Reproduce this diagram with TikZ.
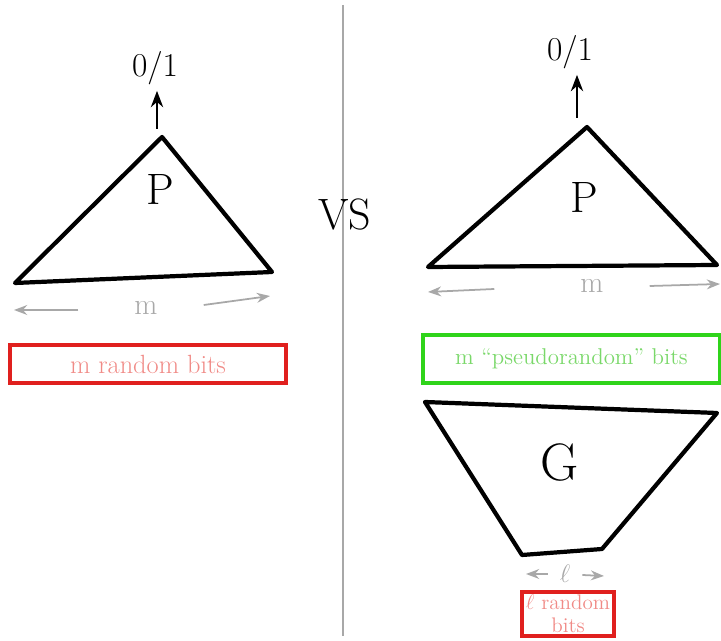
\documentclass[tikz,border=0pt]{standalone}
\usepackage{xcolor}
\definecolor{skred}{HTML}{E0201E}
\definecolor{skpink}{HTML}{F08A86}
\definecolor{skgreen}{HTML}{2FD41A}
\definecolor{sklime}{HTML}{7AD86A}
\definecolor{skgray}{HTML}{A8A8A8}
\usepackage{tikz}
\usetikzlibrary{arrows.meta,positioning,calc}

\begin{document}
\begin{tikzpicture}[x=0.02cm,y=-0.02cm,>=Stealth]
\tikzset{
 tri/.style={draw=black,line width=2.4pt,line join=round,line cap=round},
 outarr/.style={->,line width=1.4pt},
 big/.style={font=\fontsize{25}{28}\selectfont},
 res/.style={font=\fontsize{19}{22}\selectfont},
 span/.style={->,draw=skgray,line width=1pt},
 spanl/.style={text=skgray,font=\fontsize{17}{20}\selectfont},
 bits/.style={draw=skred,line width=2.2pt,text=skpink,inner sep=0pt},
 pbits/.style={draw=skgreen,line width=2.4pt,text=sklime,inner sep=0pt}
}
\useasboundingbox (0,0) rectangle (721,641);
% divider
\draw[skgray,line width=1pt] (343,5) -- (343,636);
\node[big] (vs) at (345,215) {VS};
% left: P on truly random bits
\coordinate (la) at (162,137);
\coordinate (ll) at (15,283);
\coordinate (lr) at (272,272);
\draw[tri] (la) -- (ll) -- (lr) -- cycle;
\node[big] (lp) at (160,190) {P};
\node[res] (lo) at (155,68) {0/1};
\coordinate (la0) at ($(la)+(-5,-8)$);
\draw[outarr] (la0) -- (la0 |- lo.south);
\node[spanl] (lm) at (146,308) {m};
\coordinate (lm1) at (14,310);
\coordinate (lm2) at (270,296);
\draw[span] ($(lm.west)+(-50,2)$) -- (lm1);
\draw[span] ($(lm.east)+(40,-3)$) -- (lm2);
\node[bits,minimum width=5.52cm,minimum height=0.76cm,font=\fontsize{15}{18}\selectfont] (lb) at (148,364) {m random bits};
% right: P on pseudorandom bits from G
\coordinate (ra) at (587,127);
\coordinate (rl) at (428,267);
\coordinate (rr) at (717,265);
\draw[tri] (ra) -- (rl) -- (rr) -- cycle;
\node[big] (rp) at (584,198) {P};
\node[res] (ro) at (570,52) {0/1};
\coordinate (ra0) at ($(ra)+(-10,-9)$);
\draw[outarr] (ra0) -- (ra0 |- ro.south);
\node[spanl] (rm) at (592,286) {m};
\coordinate (rm1) at (428,292);
\coordinate (rm2) at (720,284);
\draw[span] ($(rm.west)+(-80,3)$) -- (rm1);
\draw[span] ($(rm.east)+(40,0)$) -- (rm2);
\node[pbits,minimum width=5.94cm,minimum height=0.96cm,font=\fontsize{13}{16}\selectfont] (rb) at (571.5,359) {m ``pseudorandom'' bits};
\coordinate (g1) at (425,402);
\coordinate (g2) at (717,413);
\coordinate (g3) at (602,549);
\coordinate (g4) at (522,555);
\draw[tri] (g1) -- (g2) -- (g3) -- (g4) -- cycle;
\node[big,font=\fontsize{30}{34}\selectfont] (g) at (560,463) {G};
\node[spanl,font=\fontsize{14}{16}\selectfont] (rl1) at (565,574) {$\ell$};
\coordinate (rl1a) at (526,574);
\coordinate (rl1b) at (604,576);
\draw[span] ($(rl1.west)+(-6,0)$) -- (rl1a);
\draw[span] ($(rl1.east)+(6,1)$) -- (rl1b);
\node[bits,minimum width=1.84cm,minimum height=0.88cm,align=center,font=\fontsize{12}{13}\selectfont] (sb) at (568,614) {$\ell$ random\\bits};
\end{tikzpicture}
\end{document}
